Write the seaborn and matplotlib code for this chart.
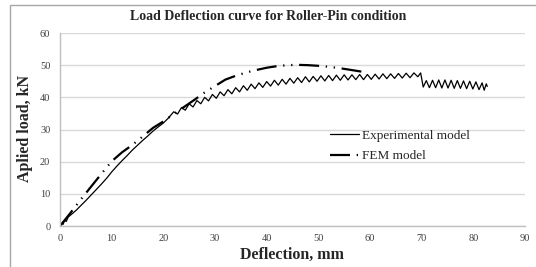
import matplotlib
matplotlib.use("Agg")
import matplotlib.pyplot as plt
import seaborn as sns
import pandas as pd
from matplotlib.patches import Rectangle

# Experimental curve (deflection in mm, load in kN)
exp_deflection = [0.0, 0.3, 0.6, 0.9, 1.2, 1.6, 2.5, 3.2, 4.0, 5.0, 6.0, 7.0, 8.0, 9.0,
                  10.0, 11.0, 12.0, 13.0, 14.0, 15.0, 16.0, 17.0, 18.0, 19.0, 20.0, 21.0,
                  22.0, 22.75, 23.5, 24.25, 25.0, 25.75, 26.5, 27.25, 28.0, 28.75,
                  29.5, 30.25, 31.0, 31.75, 32.5, 33.25, 34.0, 34.75, 35.5, 36.25,
                  37.0, 37.75, 38.5, 39.25, 40.0, 40.75, 41.5, 42.25, 43.0, 43.75,
                  44.5, 45.25, 46.0, 46.75, 47.5, 48.25, 49.0, 49.75, 50.5, 51.25,
                  52.0, 52.75, 53.5, 54.25, 55.0, 55.75, 56.5, 57.25, 58.0, 58.75,
                  59.5, 60.25, 61.0, 61.75, 62.5, 63.25, 64.0, 64.75, 65.5, 66.25,
                  67.0, 67.75, 68.5, 69.25, 69.8, 70.3,
                  70.9, 71.5, 72.1, 72.7, 73.3, 73.9, 74.5, 75.1, 75.7, 76.3,
                  76.9, 77.5, 78.1, 78.7, 79.3, 79.9, 80.5, 81.1, 81.7, 82.1, 82.5, 82.7]
exp_load = [0.0, 0.9, 0.5, 1.8, 1.4, 2.8, 4.0, 5.0, 6.3, 7.9, 9.6, 11.3, 13.0, 14.8,
            16.8, 18.6, 20.3, 21.9, 23.6, 25.1, 26.6, 28.0, 29.5, 30.8, 32.0, 33.6,
            35.5, 34.8, 36.8, 36.0, 38.0, 37.0, 39.0, 38.0, 40.0, 38.9,
            40.9, 39.7, 41.7, 40.5, 42.4, 41.1, 43.0, 41.7, 43.6, 42.2,
            44.1, 42.7, 44.5, 43.1, 44.9, 43.5, 45.3, 43.8, 45.6, 44.1,
            45.9, 44.4, 46.1, 44.6, 46.4, 44.8, 46.5, 45.0, 46.7, 45.1,
            46.8, 45.2, 46.9, 45.3, 47.0, 45.4, 47.0, 45.5, 47.1, 45.5,
            47.1, 45.6, 47.2, 45.7, 47.3, 45.8, 47.3, 45.9, 47.4, 46.0,
            47.5, 46.1, 47.6, 46.4, 47.6, 43.2,
            45.2, 43.0, 45.3, 43.0, 45.4, 42.9, 45.4, 42.9, 45.3, 42.8,
            45.2, 42.8, 45.1, 42.7, 45.0, 42.6, 44.8, 42.4, 44.5, 42.2, 44.2, 43.4]

# FEM curve
fem_deflection = [0, 2, 4, 6, 8, 10, 12, 14, 16, 18, 20, 22, 24, 26, 28, 30,
                  32, 34, 36, 38, 40, 42, 44, 46, 48, 50, 52, 54, 56, 58.7]
fem_load = [0.0, 4.0, 8.2, 12.2, 16.2, 20.1, 22.9, 25.2, 27.8, 30.5, 32.5, 34.8,
            37.0, 39.2, 41.5, 43.5, 45.5, 46.7, 47.7, 48.5, 49.2, 49.7, 50.0,
            50.1, 50.0, 49.8, 49.5, 49.1, 48.6, 47.9]

x_ticks = [0, 10, 20, 30, 40, 50, 60, 70, 80, 90]
y_ticks = [0, 10, 20, 30, 40, 50, 60]

exp_df = pd.DataFrame({"Deflection": exp_deflection, "Load": exp_load})
fem_df = pd.DataFrame({"Deflection": fem_deflection, "Load": fem_load})

sns.set_theme(style="white")
plt.rcParams['font.family'] = ['Liberation Serif', 'DejaVu Serif']

W, H = 536, 267
fig = plt.figure(figsize=(W / 100, H / 100), dpi=100)
ax = fig.add_axes([60 / W, 41 / H, 465 / W, 193 / H])

sns.lineplot(data=exp_df, x="Deflection", y="Load", ax=ax, color="black",
             lw=0.9, label="Experimental model")
sns.lineplot(data=fem_df, x="Deflection", y="Load", ax=ax, color="black",
             lw=1.6, linestyle=(0, (9, 3, 0.6, 3, 0.6, 3)), label="FEM model")

ax.set_xlim(0, 90)
ax.set_ylim(0, 60)
ax.set_xticks(x_ticks)
ax.set_yticks(y_ticks)
ax.set_xlabel("")
ax.set_ylabel("")
ax.tick_params(length=0, labelsize=7.5, colors="#404040")
ax.tick_params(axis="x", pad=6)
ax.tick_params(axis="y", pad=7)
ax.yaxis.grid(True, color="#d9d9d9", lw=1)
ax.xaxis.grid(False)
for s in ["top", "right"]:
    ax.spines[s].set_visible(False)
for s in ["left", "bottom"]:
    ax.spines[s].set_color("#bfbfbf")
    ax.spines[s].set_linewidth(1)

ax.legend(loc="center left", bbox_to_anchor=(330 / W, 1 - 146 / H),
          bbox_transform=fig.transFigure, frameon=False, fontsize=9.5,
          handlelength=2.2, handletextpad=0.2, labelspacing=0.6,
          borderpad=0, borderaxespad=0)

fig.text(268 / W, 1 - 17 / H, "Load Deflection curve for Roller-Pin condition",
         ha="center", va="center", fontsize=10, fontweight="bold")
fig.text(292 / W, 1 - 255 / H, "Deflection, mm", ha="center", va="center",
         fontsize=11.5, fontweight="bold")
fig.text(25 / W, 1 - 128 / H, "Aplied load, kN", ha="center", va="center",
         rotation=90, fontsize=11.5, fontweight="bold")

# outer chart frame
fig.add_artist(Rectangle((10 / W, -0.05), 1.0, (H - 5) / H + 0.05,
                         transform=fig.transFigure, fill=False,
                         edgecolor="#a6a6a6", lw=1))

fig.savefig("out.png", dpi=100)
